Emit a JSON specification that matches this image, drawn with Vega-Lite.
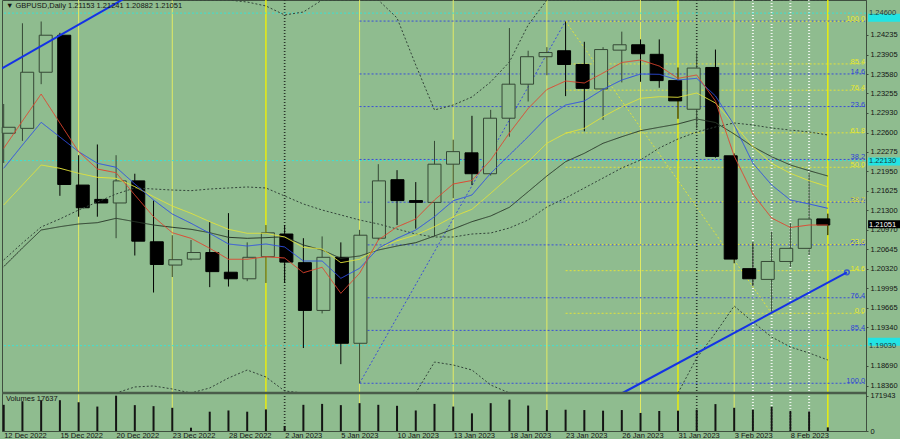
{
"$schema": "https://vega.github.io/schema/vega-lite/v6.json",
"padding": 0,
"background": "#8fbc8f",
"width": 864,
"height": 431,
"config": {"view": {"stroke": "#3f4f3f", "strokeWidth": 1, "fill": "#8fbc8f"}, "font": "Liberation Sans", "text": {"font": "Liberation Sans"}},
"datasets": {
"candles": [
{"i":0,"o":1.22588,"h":1.23078,"l":1.2209,"c":1.22688,"v":127500},
{"i":1,"o":1.2267,"h":1.2443,"l":1.2246,"c":1.2361,"v":145000},
{"i":2,"o":1.2361,"h":1.2446,"l":1.2341,"c":1.2423,"v":150000},
{"i":3,"o":1.2423,"h":1.2427,"l":1.2154,"c":1.2173,"v":150000},
{"i":4,"o":1.2172,"h":1.2222,"l":1.2119,"c":1.2134,"v":140000},
{"i":5,"o":1.2148,"h":1.224,"l":1.2119,"c":1.2142,"v":119000},
{"i":6,"o":1.2142,"h":1.2222,"l":1.2083,"c":1.2179,"v":171943},
{"i":7,"o":1.2179,"h":1.2191,"l":1.2054,"c":1.2078,"v":126000},
{"i":8,"o":1.2077,"h":1.2146,"l":1.1992,"c":1.2039,"v":121000},
{"i":9,"o":1.2038,"h":1.2088,"l":1.2018,"c":1.2047,"v":113000},
{"i":10,"o":1.2048,"h":1.208,"l":1.2046,"c":1.2059,"v":16000},
{"i":11,"o":1.2059,"h":1.211,"l":1.2001,"c":1.2027,"v":94000},
{"i":12,"o":1.2026,"h":1.2125,"l":1.2002,"c":1.2015,"v":100000},
{"i":13,"o":1.2015,"h":1.2076,"l":1.2011,"c":1.2051,"v":94000},
{"i":14,"o":1.2052,"h":1.2105,"l":1.2008,"c":1.2092,"v":105000},
{"i":15,"o":1.209,"h":1.2105,"l":1.2008,"c":1.2043,"v":24000},
{"i":16,"o":1.2042,"h":1.2083,"l":1.1899,"c":1.1962,"v":127500},
{"i":17,"o":1.1962,"h":1.2086,"l":1.1957,"c":1.2051,"v":132000},
{"i":18,"o":1.2051,"h":1.2076,"l":1.1872,"c":1.1907,"v":126000},
{"i":19,"o":1.1907,"h":1.2097,"l":1.184,"c":1.2088,"v":135600},
{"i":20,"o":1.2083,"h":1.2207,"l":1.208,"c":1.2179,"v":127500},
{"i":21,"o":1.2181,"h":1.2197,"l":1.2105,"c":1.2146,"v":122700},
{"i":22,"o":1.2146,"h":1.2177,"l":1.2099,"c":1.2143,"v":100000},
{"i":23,"o":1.2143,"h":1.2246,"l":1.2086,"c":1.2207,"v":132000},
{"i":24,"o":1.2207,"h":1.2248,"l":1.215,"c":1.2228,"v":119000},
{"i":25,"o":1.2226,"h":1.2288,"l":1.2172,"c":1.2191,"v":86000},
{"i":26,"o":1.2191,"h":1.2298,"l":1.2188,"c":1.2284,"v":135600},
{"i":27,"o":1.2284,"h":1.2435,"l":1.2253,"c":1.2341,"v":152800},
{"i":28,"o":1.2341,"h":1.2397,"l":1.2312,"c":1.2387,"v":124000},
{"i":29,"o":1.2387,"h":1.2403,"l":1.2356,"c":1.2394,"v":102000},
{"i":30,"o":1.2397,"h":1.2446,"l":1.2321,"c":1.2374,"v":103600},
{"i":31,"o":1.2374,"h":1.2412,"l":1.2262,"c":1.2334,"v":102000},
{"i":32,"o":1.2333,"h":1.2403,"l":1.2281,"c":1.2399,"v":99000},
{"i":33,"o":1.2398,"h":1.2429,"l":1.2344,"c":1.2407,"v":102000},
{"i":34,"o":1.2407,"h":1.2416,"l":1.2345,"c":1.2392,"v":88000},
{"i":35,"o":1.2391,"h":1.2416,"l":1.2335,"c":1.2347,"v":97400},
{"i":36,"o":1.2347,"h":1.2369,"l":1.2283,"c":1.2313,"v":99000},
{"i":37,"o":1.2299,"h":1.2394,"l":1.2267,"c":1.2368,"v":103600},
{"i":38,"o":1.2369,"h":1.2399,"l":1.2218,"c":1.222,"v":131000},
{"i":39,"o":1.2221,"h":1.2225,"l":1.2041,"c":1.2048,"v":113000},
{"i":40,"o":1.2032,"h":1.2076,"l":1.2003,"c":1.2015,"v":103600},
{"i":41,"o":1.2014,"h":1.2094,"l":1.196,"c":1.2044,"v":118000},
{"i":42,"o":1.2044,"h":1.2108,"l":1.2035,"c":1.2066,"v":97400},
{"i":43,"o":1.2066,"h":1.2192,"l":1.2055,"c":1.2115,"v":95500},
{"i":44,"o":1.21153,"h":1.21241,"l":1.20882,"c":1.21051,"v":17637}
],
"ma": [
{"i":0,"red":1.22336,"blue":1.22001,"yellow":1.21386,"dark":1.20353,"mid":1.20465,"up":1.256,"lo":1.162},
{"i":1,"red":1.22793,"blue":1.22391,"yellow":1.21721,"dark":1.20666,"mid":1.2075,"up":1.257,"lo":1.164},
{"i":2,"red":1.23245,"blue":1.22771,"yellow":1.22056,"dark":1.20967,"mid":1.21018,"up":1.2575,"lo":1.167},
{"i":3,"red":1.2276,"blue":1.22525,"yellow":1.22001,"dark":1.21023,"mid":1.21152,"up":1.2565,"lo":1.17},
{"i":4,"red":1.22279,"blue":1.22279,"yellow":1.21917,"dark":1.21068,"mid":1.21302,"up":1.255,"lo":1.173},
{"i":5,"red":1.21989,"blue":1.22085,"yellow":1.2185,"dark":1.2109,"mid":1.21436,"up":1.2535,"lo":1.176},
{"i":6,"red":1.21927,"blue":1.22018,"yellow":1.21833,"dark":1.21163,"mid":1.2157,"up":1.252,"lo":1.1795},
{"i":7,"red":1.21554,"blue":1.21738,"yellow":1.21693,"dark":1.21107,"mid":1.21671,"up":1.251,"lo":1.18338},
{"i":8,"red":1.2119,"blue":1.2147,"yellow":1.21525,"dark":1.21051,"mid":1.21654,"up":1.2505,"lo":1.18355},
{"i":9,"red":1.20922,"blue":1.21235,"yellow":1.21369,"dark":1.21013,"mid":1.21637,"up":1.25,"lo":1.18304},
{"i":10,"red":1.20828,"blue":1.2108,"yellow":1.21247,"dark":1.20979,"mid":1.21626,"up":1.2496,"lo":1.1822},
{"i":11,"red":1.20661,"blue":1.20912,"yellow":1.21107,"dark":1.20922,"mid":1.21654,"up":1.2492,"lo":1.18321},
{"i":12,"red":1.20477,"blue":1.20733,"yellow":1.20979,"dark":1.20845,"mid":1.21671,"up":1.2486,"lo":1.18488},
{"i":13,"red":1.20477,"blue":1.20699,"yellow":1.20912,"dark":1.20828,"mid":1.21688,"up":1.24786,"lo":1.18622},
{"i":14,"red":1.2052,"blue":1.20733,"yellow":1.20912,"dark":1.20839,"mid":1.21671,"up":1.2472,"lo":1.18505},
{"i":15,"red":1.20498,"blue":1.20683,"yellow":1.2085,"dark":1.20855,"mid":1.21537,"up":1.24569,"lo":1.18271},
{"i":16,"red":1.20252,"blue":1.20448,"yellow":1.20678,"dark":1.20716,"mid":1.21403,"up":1.24619,"lo":1.18},
{"i":17,"red":1.20343,"blue":1.20448,"yellow":1.20649,"dark":1.20632,"mid":1.21302,"up":1.2485,"lo":1.179},
{"i":18,"red":1.19907,"blue":1.20158,"yellow":1.2042,"dark":1.20493,"mid":1.21219,"up":1.252,"lo":1.177},
{"i":19,"red":1.20242,"blue":1.20326,"yellow":1.20477,"dark":1.20532,"mid":1.21135,"up":1.254,"lo":1.1755},
{"i":20,"red":1.208,"blue":1.20661,"yellow":1.20661,"dark":1.20632,"mid":1.21068,"up":1.2525,"lo":1.176},
{"i":21,"red":1.21018,"blue":1.20828,"yellow":1.20788,"dark":1.20699,"mid":1.20984,"up":1.24519,"lo":1.179},
{"i":22,"red":1.21152,"blue":1.20967,"yellow":1.20884,"dark":1.20755,"mid":1.209,"up":1.23731,"lo":1.18204},
{"i":23,"red":1.2147,"blue":1.2119,"yellow":1.21023,"dark":1.20867,"mid":1.2085,"up":1.22978,"lo":1.18756},
{"i":24,"red":1.21738,"blue":1.21458,"yellow":1.2119,"dark":1.20984,"mid":1.2085,"up":1.23061,"lo":1.18706},
{"i":25,"red":1.21797,"blue":1.21554,"yellow":1.21314,"dark":1.21107,"mid":1.209,"up":1.23195,"lo":1.18622},
{"i":26,"red":1.2214,"blue":1.21917,"yellow":1.21582,"dark":1.21202,"mid":1.20917,"up":1.23447,"lo":1.18371},
{"i":27,"red":1.22592,"blue":1.22224,"yellow":1.2186,"dark":1.21348,"mid":1.21001,"up":1.23782,"lo":1.1817},
{"i":28,"red":1.23003,"blue":1.2253,"yellow":1.22112,"dark":1.21609,"mid":1.21135,"up":1.24401,"lo":1.18},
{"i":29,"red":1.23321,"blue":1.22855,"yellow":1.2242,"dark":1.21872,"mid":1.21353,"up":1.251,"lo":1.179},
{"i":30,"red":1.23463,"blue":1.23061,"yellow":1.22587,"dark":1.22112,"mid":1.21503,"up":1.254,"lo":1.178},
{"i":31,"red":1.2343,"blue":1.23128,"yellow":1.22671,"dark":1.22252,"mid":1.21671,"up":1.256,"lo":1.177},
{"i":32,"red":1.23597,"blue":1.23324,"yellow":1.22865,"dark":1.2242,"mid":1.21838,"up":1.258,"lo":1.1765},
{"i":33,"red":1.23773,"blue":1.2348,"yellow":1.23033,"dark":1.2253,"mid":1.22006,"up":1.259,"lo":1.177},
{"i":34,"red":1.23815,"blue":1.2358,"yellow":1.23173,"dark":1.22631,"mid":1.2214,"up":1.26,"lo":1.1785},
{"i":35,"red":1.23714,"blue":1.23575,"yellow":1.232,"dark":1.22688,"mid":1.22341,"up":1.26,"lo":1.1805},
{"i":36,"red":1.23508,"blue":1.2348,"yellow":1.2319,"dark":1.22743,"mid":1.22492,"up":1.2595,"lo":1.18237},
{"i":37,"red":1.23564,"blue":1.23508,"yellow":1.23262,"dark":1.22827,"mid":1.22609,"up":1.259,"lo":1.18823},
{"i":38,"red":1.23128,"blue":1.23212,"yellow":1.23095,"dark":1.22768,"mid":1.22693,"up":1.258,"lo":1.19242},
{"i":39,"red":1.22207,"blue":1.22726,"yellow":1.22735,"dark":1.22575,"mid":1.2276,"up":1.257,"lo":1.19694},
{"i":40,"red":1.2157,"blue":1.22085,"yellow":1.22363,"dark":1.22363,"mid":1.22726,"up":1.256,"lo":1.19426},
{"i":41,"red":1.21168,"blue":1.21721,"yellow":1.22085,"dark":1.22195,"mid":1.22676,"up":1.255,"lo":1.19175},
{"i":42,"red":1.21009,"blue":1.2147,"yellow":1.21917,"dark":1.22056,"mid":1.22642,"up":1.2545,"lo":1.19008},
{"i":43,"red":1.21051,"blue":1.21403,"yellow":1.21793,"dark":1.21961,"mid":1.22609,"up":1.254,"lo":1.18907},
{"i":44,"red":1.21051,"blue":1.21331,"yellow":1.21693,"dark":1.21872,"mid":1.22559,"up":1.253,"lo":1.1879}
],
"vl": [
{"i":4,"k":"fri"},{"i":9,"k":"fri"},{"i":14,"k":"mon"},{"i":15,"k":"sep"},{"i":19,"k":"fri"},{"i":24,"k":"fri"},{"i":29,"k":"fri"},{"i":34,"k":"fri"},{"i":36,"k":"mon"},{"i":37,"k":"sep"},{"i":39,"k":"fri"},{"i":40,"k":"wd"},{"i":41,"k":"wd"},{"i":42,"k":"wd"},{"i":43,"k":"wd"},{"i":44,"k":"mon"}
],
"fib": [
{"s":"blue","i":19,"i2":45.99,"p":1.24467,"lvl":"0.0"},
{"s":"blue","i":19,"i2":45.99,"p":1.23581,"lvl":"14.6"},
{"s":"blue","i":19,"i2":45.99,"p":1.23035,"lvl":"23.6"},
{"s":"blue","i":19,"i2":45.99,"p":1.22149,"lvl":"38.2"},
{"s":"blue","i":19,"i2":45.99,"p":1.21433,"lvl":"50.0"},
{"s":"blue","i":19,"i2":45.99,"p":1.20718,"lvl":"61.8"},
{"s":"blue","i":19,"i2":45.99,"p":1.19832,"lvl":"76.4"},
{"s":"blue","i":19,"i2":45.99,"p":1.19286,"lvl":"85.4"},
{"s":"blue","i":19,"i2":45.99,"p":1.184,"lvl":"100.0"},
{"s":"yellow","i":30,"i2":45.99,"p":1.24463,"lvl":"100.0"},
{"s":"yellow","i":30,"i2":45.99,"p":1.23749,"lvl":"85.4"},
{"s":"yellow","i":30,"i2":45.99,"p":1.23309,"lvl":"76.4"},
{"s":"yellow","i":30,"i2":45.99,"p":1.22595,"lvl":"61.8"},
{"s":"yellow","i":30,"i2":45.99,"p":1.22018,"lvl":"50.0"},
{"s":"yellow","i":30,"i2":45.99,"p":1.2144,"lvl":"38.2"},
{"s":"yellow","i":30,"i2":45.99,"p":1.20726,"lvl":"23.6"},
{"s":"yellow","i":30,"i2":45.99,"p":1.20286,"lvl":"14.6"},
{"s":"yellow","i":30,"i2":45.99,"p":1.19572,"lvl":"0.0"}
],
"diag": [
{"s":"blue","i":19,"p":1.184},{"s":"blue","i":30,"p":1.24467},
{"s":"yellow","i":30,"p":1.24463},{"s":"yellow","i":41,"p":1.19572}
],
"tl": [
{"g":1,"i":-0.0908,"p":1.23676},{"g":1,"i":7,"p":1.24944},
{"g":2,"i":33.04,"p":1.18237},{"g":2,"i":45.02,"p":1.20259}
],
"tldot": [{"i":45.02,"p":1.20259}],
"tags": [
{"p":1.246,"t":"1.24600","k":"cyan"},
{"p":1.2213,"t":"1.22130","k":"cyan"},
{"p":1.1903,"t":"1.19030","k":"cyan"},
{"p":1.21051,"t":"1.21051","k":"black"}
],
"heads": [
{"pane":"price","t":"▼ GBPUSD,Daily  1.21153 1.21241 1.20882 1.21051"}
],
"vhead": [
{"pane":"volume","t":"Volumes 17637"}
],
"sep": [
{"pane":"price","edge":"bottom"}
]
},
"resolve": {"scale": {"x": "independent", "y": "independent", "color": "independent", "fill": "independent", "stroke": "independent", "strokeDash": "independent", "strokeWidth": "independent"}},
"layer": [
{"data": {"name": "vl"}, "mark": {"type": "rule", "clip": true},
 "encoding": {
  "x": {"field": "i", "type": "quantitative", "scale": {"domain": [-0.0908, 46.038], "nice": false, "zero": false}, "axis": null},
  "color": {"field": "k", "type": "nominal", "scale": {"domain": ["fri","mon","sep","wd"], "range": ["#e2ea64","#f2f200","#2a352a","#eef4ee"]}, "legend": null},
  "strokeWidth": {"field": "k", "type": "nominal", "scale": {"domain": ["fri","mon","sep","wd"], "range": [1, 2, 1, 1]}, "legend": null},
  "strokeDash": {"field": "k", "type": "nominal", "scale": {"domain": ["fri","mon","sep","wd"], "range": [[1,0],[1,0],[1,2],[1,2]]}, "legend": null}
 }},
{"data": {"name": "tags"}, "transform": [{"filter": "datum.k == 'cyan'"}], "mark": {"type": "rule", "color": "#3ee0d2", "strokeDash": [2,2], "strokeWidth": 1, "clip": true},
 "encoding": {"y": {"field": "p", "type": "quantitative", "scale": {"domain": [1.18237, 1.2482], "range": [393, 0], "nice": false, "zero": false}, "axis": null}}},
{"data": {"name": "fib"}, "mark": {"type": "rule", "strokeDash": [2,2], "strokeWidth": 1, "clip": true},
 "encoding": {
  "x": {"field": "i", "type": "quantitative", "scale": {"domain": [-0.0908, 46.038], "nice": false, "zero": false}, "axis": null},
  "x2": {"field": "i2"},
  "y": {"field": "p", "type": "quantitative", "scale": {"domain": [1.18237, 1.2482], "range": [393, 0], "nice": false, "zero": false}, "axis": null},
  "color": {"field": "s", "type": "nominal", "scale": {"domain": ["blue","yellow"], "range": ["#3a4ed8","#e2e23a"]}, "legend": null}
 }},
{"data": {"name": "diag"}, "mark": {"type": "line", "strokeDash": [2,2], "strokeWidth": 1, "clip": true},
 "encoding": {
  "x": {"field": "i", "type": "quantitative", "scale": {"domain": [-0.0908, 46.038], "nice": false, "zero": false}, "axis": null},
  "y": {"field": "p", "type": "quantitative", "scale": {"domain": [1.18237, 1.2482], "range": [393, 0], "nice": false, "zero": false}, "axis": null},
  "color": {"field": "s", "type": "nominal", "scale": {"domain": ["blue","yellow"], "range": ["#3a4ed8","#e2e23a"]}, "legend": null}
 }},
{"data": {"name": "fib"}, "transform": [{"filter": "datum.s == 'yellow' || datum.lvl != '0.0'"}], "mark": {"type": "text", "align": "right", "baseline": "alphabetic", "fontSize": 7.5, "font": "Liberation Sans"},
 "encoding": {
  "x": {"field": "i2", "type": "quantitative", "scale": {"domain": [-0.0908, 46.038], "nice": false, "zero": false}, "axis": null},
  "y": {"field": "p", "type": "quantitative", "scale": {"domain": [1.18237, 1.2482], "range": [393, 0], "nice": false, "zero": false}, "axis": null},
  "text": {"field": "lvl"},
  "color": {"field": "s", "type": "nominal", "scale": {"domain": ["blue","yellow"], "range": ["#2f44d6","#eaea2a"]}, "legend": null}
 }},
{"data": {"name": "candles"}, "mark": {"type": "rule", "strokeWidth": 1},
 "encoding": {
  "x": {"field": "i", "type": "quantitative", "scale": {"domain": [-0.0908, 46.038], "nice": false, "zero": false}, "axis": null},
  "y": {"field": "l", "type": "quantitative", "scale": {"domain": [1.18237, 1.2482], "range": [393, 0], "nice": false, "zero": false},
        "axis": {"orient": "right", "title": null, "grid": false, "values": [1.24235,1.23905,1.2358,1.23255,1.2293,1.226,1.22275,1.2195,1.21625,1.213,1.2097,1.20645,1.2032,1.19995,1.19665,1.1934,1.1869,1.1836], "format": ".5f", "tickSize": 2, "labelPadding": 2, "labelFontSize": 7.5, "labelFont": "Liberation Sans", "labelColor": "#141414", "domainColor": "#3f4f3f", "tickColor": "#3f4f3f", "labelOverlap": false, "labelFlush": false}},
  "y2": {"field": "h"},
  "color": {"condition": {"test": "datum.c < datum.o", "value": "#000000"}, "value": "#354835"}
 }},
{"data": {"name": "candles"}, "mark": {"type": "bar", "width": 13, "strokeWidth": 1},
 "encoding": {
  "x": {"field": "i", "type": "quantitative", "scale": {"domain": [-0.0908, 46.038], "nice": false, "zero": false}, "axis": null},
  "y": {"field": "o", "type": "quantitative", "scale": {"domain": [1.18237, 1.2482], "range": [393, 0], "nice": false, "zero": false}, "axis": null},
  "y2": {"field": "c"},
  "fill": {"condition": {"test": "datum.c < datum.o", "value": "#000000"}, "value": "#8fbc8f"},
  "stroke": {"condition": {"test": "datum.c < datum.o", "value": "#000000"}, "value": "#354835"}
 }},
{"data": {"name": "ma"}, "transform": [{"fold": ["dark","mid","up","lo","yellow","blue","red"], "as": ["s","p"]}],
 "mark": {"type": "line", "clip": true, "strokeWidth": 1},
 "encoding": {
  "x": {"field": "i", "type": "quantitative", "scale": {"domain": [-0.0908, 46.038], "nice": false, "zero": false}, "axis": null},
  "y": {"field": "p", "type": "quantitative", "scale": {"domain": [1.18237, 1.2482], "range": [393, 0], "nice": false, "zero": false, "clamp": true}, "axis": null},
  "color": {"field": "s", "type": "nominal", "scale": {"domain": ["dark","mid","up","lo","yellow","blue","red"], "range": ["#2b3a2b","#33443a","#33443a","#33443a","#e4e43a","#2f4fe6","#e2452f"]}, "legend": null},
  "strokeDash": {"field": "s", "type": "nominal", "scale": {"domain": ["dark","mid","up","lo","yellow","blue","red"], "range": [[1,0],[2,2],[2,2],[2,2],[1,0],[1,0],[1,0]]}, "legend": null}
 }},
{"data": {"name": "tl"}, "mark": {"type": "line", "color": "#1432e6", "strokeWidth": 2, "clip": true},
 "encoding": {
  "x": {"field": "i", "type": "quantitative", "scale": {"domain": [-0.0908, 46.038], "nice": false, "zero": false}, "axis": null},
  "y": {"field": "p", "type": "quantitative", "scale": {"domain": [1.18237, 1.2482], "range": [393, 0], "nice": false, "zero": false}, "axis": null},
  "detail": {"field": "g", "type": "nominal"}
 }},
{"data": {"name": "tldot"}, "mark": {"type": "point", "shape": "circle", "size": 22, "filled": false, "color": "#1432e6", "strokeWidth": 1.5},
 "encoding": {
  "x": {"field": "i", "type": "quantitative", "scale": {"domain": [-0.0908, 46.038], "nice": false, "zero": false}, "axis": null},
  "y": {"field": "p", "type": "quantitative", "scale": {"domain": [1.18237, 1.2482], "range": [393, 0], "nice": false, "zero": false}, "axis": null}
 }},
{"data": {"name": "sep"}, "mark": {"type": "rule", "color": "#4a5c4a", "strokeWidth": 2.5},
 "encoding": {"y": {"datum": 1.18237, "type": "quantitative", "scale": {"domain": [1.18237, 1.2482], "range": [393, 0], "nice": false, "zero": false}, "axis": null}}},
{"data": {"name": "candles"}, "mark": {"type": "rule", "strokeWidth": 2, "color": "#141414"},
 "encoding": {
  "x": {"field": "i", "type": "quantitative", "scale": {"domain": [-0.0908, 46.038], "nice": false, "zero": false},
        "axis": {"orient": "bottom", "title": null, "grid": false, "values": [0,3,6,9,12,15,18,21,24,27,30,33,36,39,42],
                 "labelExpr": "['12 Dec 2022','15 Dec 2022','20 Dec 2022','23 Dec 2022','28 Dec 2022','2 Jan 2023','5 Jan 2023','10 Jan 2023','13 Jan 2023','18 Jan 2023','23 Jan 2023','26 Jan 2023','31 Jan 2023','3 Feb 2023','8 Feb 2023'][round(datum.value/3)]",
                 "labelAlign": "left", "labelBaseline": "top", "labelPadding": 0, "tickSize": 0, "labelFontSize": 7.5, "labelFont": "Liberation Sans", "labelColor": "#141414", "domainColor": "#3f4f3f", "labelOverlap": false, "labelFlush": false}},
  "y": {"field": "v", "type": "quantitative", "scale": {"domain": [0, 185100], "range": [431, 393], "nice": false, "zero": false},
        "axis": {"orient": "right", "title": null, "grid": false, "values": [0, 171943], "format": "d", "tickSize": 2, "labelPadding": 2, "labelFontSize": 7.5, "labelFont": "Liberation Sans", "labelColor": "#141414", "domainColor": "#3f4f3f", "tickColor": "#3f4f3f", "labelOverlap": false, "labelFlush": false}},
  "y2": {"datum": 0}
 }},
{"data": {"name": "tags"}, "mark": {"type": "bar", "height": 8, "clip": false},
 "encoding": {
  "x": {"datum": 46.15, "type": "quantitative", "scale": {"domain": [-0.0908, 46.038], "nice": false, "zero": false}, "axis": null},
  "x2": {"datum": 47.9},
  "y": {"field": "p", "type": "quantitative", "scale": {"domain": [1.18237, 1.2482], "range": [393, 0], "nice": false, "zero": false}, "axis": null},
  "fill": {"field": "k", "type": "nominal", "scale": {"domain": ["cyan","black"], "range": ["#22e4e4","#000000"]}, "legend": null}
 }},
{"data": {"name": "tags"}, "mark": {"type": "text", "align": "left", "baseline": "middle", "fontSize": 7.5, "clip": false, "font": "Liberation Sans"},
 "encoding": {
  "x": {"datum": 46.2, "type": "quantitative", "scale": {"domain": [-0.0908, 46.038], "nice": false, "zero": false}, "axis": null},
  "y": {"field": "p", "type": "quantitative", "scale": {"domain": [1.18237, 1.2482], "range": [393, 0], "nice": false, "zero": false}, "axis": null},
  "text": {"field": "t"},
  "color": {"field": "k", "type": "nominal", "scale": {"domain": ["cyan","black"], "range": ["#1d3a3a","#ffffff"]}, "legend": null}
 }},
{"data": {"name": "heads"}, "mark": {"type": "text", "align": "left", "baseline": "middle", "fontSize": 7.5, "font": "Liberation Sans", "color": "#141414"},
 "encoding": {
  "text": {"field": "t"},
  "x": {"datum": 0.12, "type": "quantitative", "scale": {"domain": [-0.0908, 46.038], "nice": false, "zero": false}, "axis": null},
  "y": {"datum": 1.2472, "type": "quantitative", "scale": {"domain": [1.18237, 1.2482], "range": [393, 0], "nice": false, "zero": false}, "axis": null}
 }},
{"data": {"name": "vhead"}, "mark": {"type": "text", "align": "left", "baseline": "middle", "fontSize": 7.5, "font": "Liberation Sans", "color": "#141414"},
 "encoding": {
  "text": {"field": "t"},
  "x": {"datum": 0.12, "type": "quantitative", "scale": {"domain": [-0.0908, 46.038], "nice": false, "zero": false}, "axis": null},
  "y": {"datum": 155000, "type": "quantitative", "scale": {"domain": [0, 185100], "range": [431, 393], "nice": false, "zero": false}, "axis": null}
 }}
]
}
